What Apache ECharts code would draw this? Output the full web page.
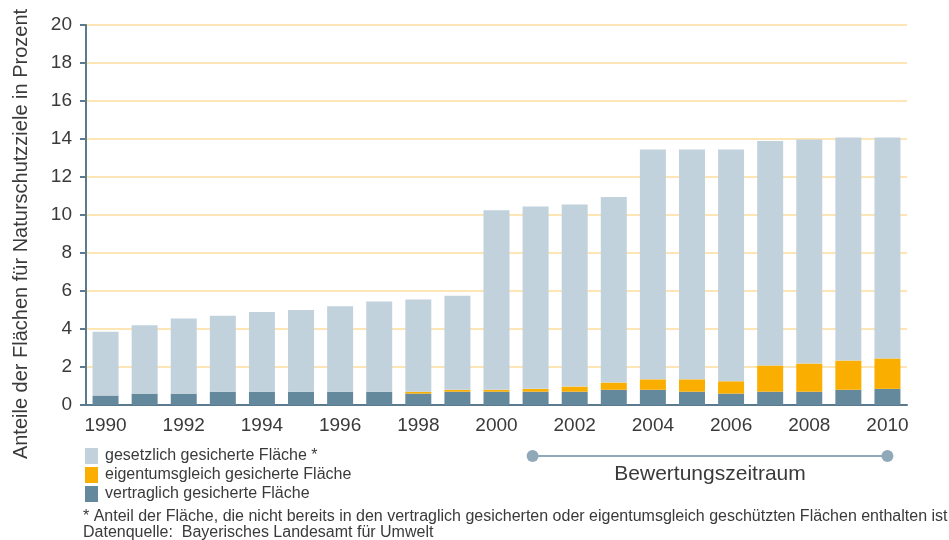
<!DOCTYPE html>
<html>
<head>
<meta charset="utf-8">
<script src="https://cdn.jsdelivr.net/npm/echarts@6/dist/echarts.min.js"></script>
<style>
  html,body{margin:0;padding:0;background:#fff;}
  #main{width:949px;height:540px;}
</style>
</head>
<body>
<div id="main"></div>
<script>
//Daten
let years=['1990','1991','1992','1993','1994','1995','1996','1997','1998','1999','2000',
  '2001','2002','2003','2004','2005','2006','2007','2008','2009','2010']
let vertraglich=[0.5,0.6,0.6,0.7,0.7,0.7,0.7,0.7,0.6,0.7,0.7,0.7,0.7,0.8,0.8,0.7,0.6,0.7,0.7,0.8,0.85]
let eigentumsgleich=[0,0,0,0,0,0,0,0,0.1,0.1,0.1,0.15,0.27,0.38,0.55,0.65,0.65,1.38,1.48,1.54,1.6]
let gesetzlich=[3.35,3.6,3.95,4.0,4.2,4.3,4.5,4.75,4.85,4.95,9.45,9.6,9.58,9.77,12.1,12.1,12.2,11.82,11.79,11.74,11.63]
let seriesNames=['gesetzlich gesicherte Fläche *','eigentumsgleich gesicherte Fläche','vertraglich gesicherte Fläche']
let periodStart='2001', periodEnd='2010'

let font='Liberation Sans'
let txt='#3a3a3a'
let axisColor='#5a7b8d'

var myChart = echarts.init(document.getElementById('main'));
option = {
  animation:false,
  textStyle:{fontFamily:font},
  grid:{left:86,right:42,top:25,bottom:135},
  legend:{
    orient:'vertical',left:80,top:443,
    itemWidth:13,itemHeight:16,itemGap:3,
    icon:'rect',
    data:seriesNames,
    textStyle:{fontSize:16,color:txt,fontFamily:font,padding:[0,0,0,2]}
  },
  xAxis:{
    type:'category',data:years,
    axisLine:{lineStyle:{color:axisColor,width:2}},
    axisTick:{interval:0,length:7,lineStyle:{color:axisColor,width:2}},
    axisLabel:{interval:1,fontSize:19,color:txt,margin:11,fontFamily:font}
  },
  yAxis:{
    type:'value',min:0,max:20,interval:2,
    axisLine:{show:true,lineStyle:{color:axisColor,width:2}},
    axisTick:{show:true,length:6,lineStyle:{color:axisColor,width:2}},
    axisLabel:{fontSize:19,color:txt,margin:14,fontFamily:font},
    splitLine:{lineStyle:{color:'#fde5b6',width:2}}
  },
  series:[
    {name:seriesNames[2],type:'bar',stack:'a',barWidth:26,data:vertraglich,itemStyle:{color:'#64899d'}},
    {name:seriesNames[1],type:'bar',stack:'a',data:eigentumsgleich,itemStyle:{color:'#f9ae00'}},
    {name:seriesNames[0],type:'bar',stack:'a',data:gesetzlich,itemStyle:{color:'#c2d2dc'}}
  ]
};
myChart.setOption(option);

//Bewertungszeitraum + Achsentitel + Fussnote
let x1=myChart.convertToPixel({xAxisIndex:0},periodStart)-3
let x2=myChart.convertToPixel({xAxisIndex:0},periodEnd)
let lineY=456
myChart.setOption({
  graphic:[
    {type:'line',shape:{x1:x1,y1:lineY,x2:x2,y2:lineY},style:{stroke:'#8fa9b9',lineWidth:2}},
    {type:'circle',shape:{cx:x1,cy:lineY,r:6},style:{fill:'#8fa9b9'}},
    {type:'circle',shape:{cx:x2,cy:lineY,r:6},style:{fill:'#8fa9b9'}},
    {type:'text',x:(x1+x2)/2,y:474,style:{text:'Bewertungszeitraum',font:'21px '+font,fill:txt,align:'center',verticalAlign:'middle'}},
    {type:'text',x:21,y:234,rotation:Math.PI/2,style:{text:'Anteile der Flächen für Naturschutzziele in Prozent',font:'20px '+font,fill:txt,align:'center',verticalAlign:'middle'}},
    {type:'text',x:83,y:517,style:{text:'* Anteil der Fläche, die nicht bereits in den vertraglich gesicherten oder eigentumsgleich geschützten Flächen enthalten ist',font:'16px '+font,fill:txt,verticalAlign:'middle'}},
    {type:'text',x:83,y:533,style:{text:'Datenquelle:  Bayerisches Landesamt für Umwelt',font:'16px '+font,fill:txt,verticalAlign:'middle'}}
  ]
})
</script>
</body>
</html>
